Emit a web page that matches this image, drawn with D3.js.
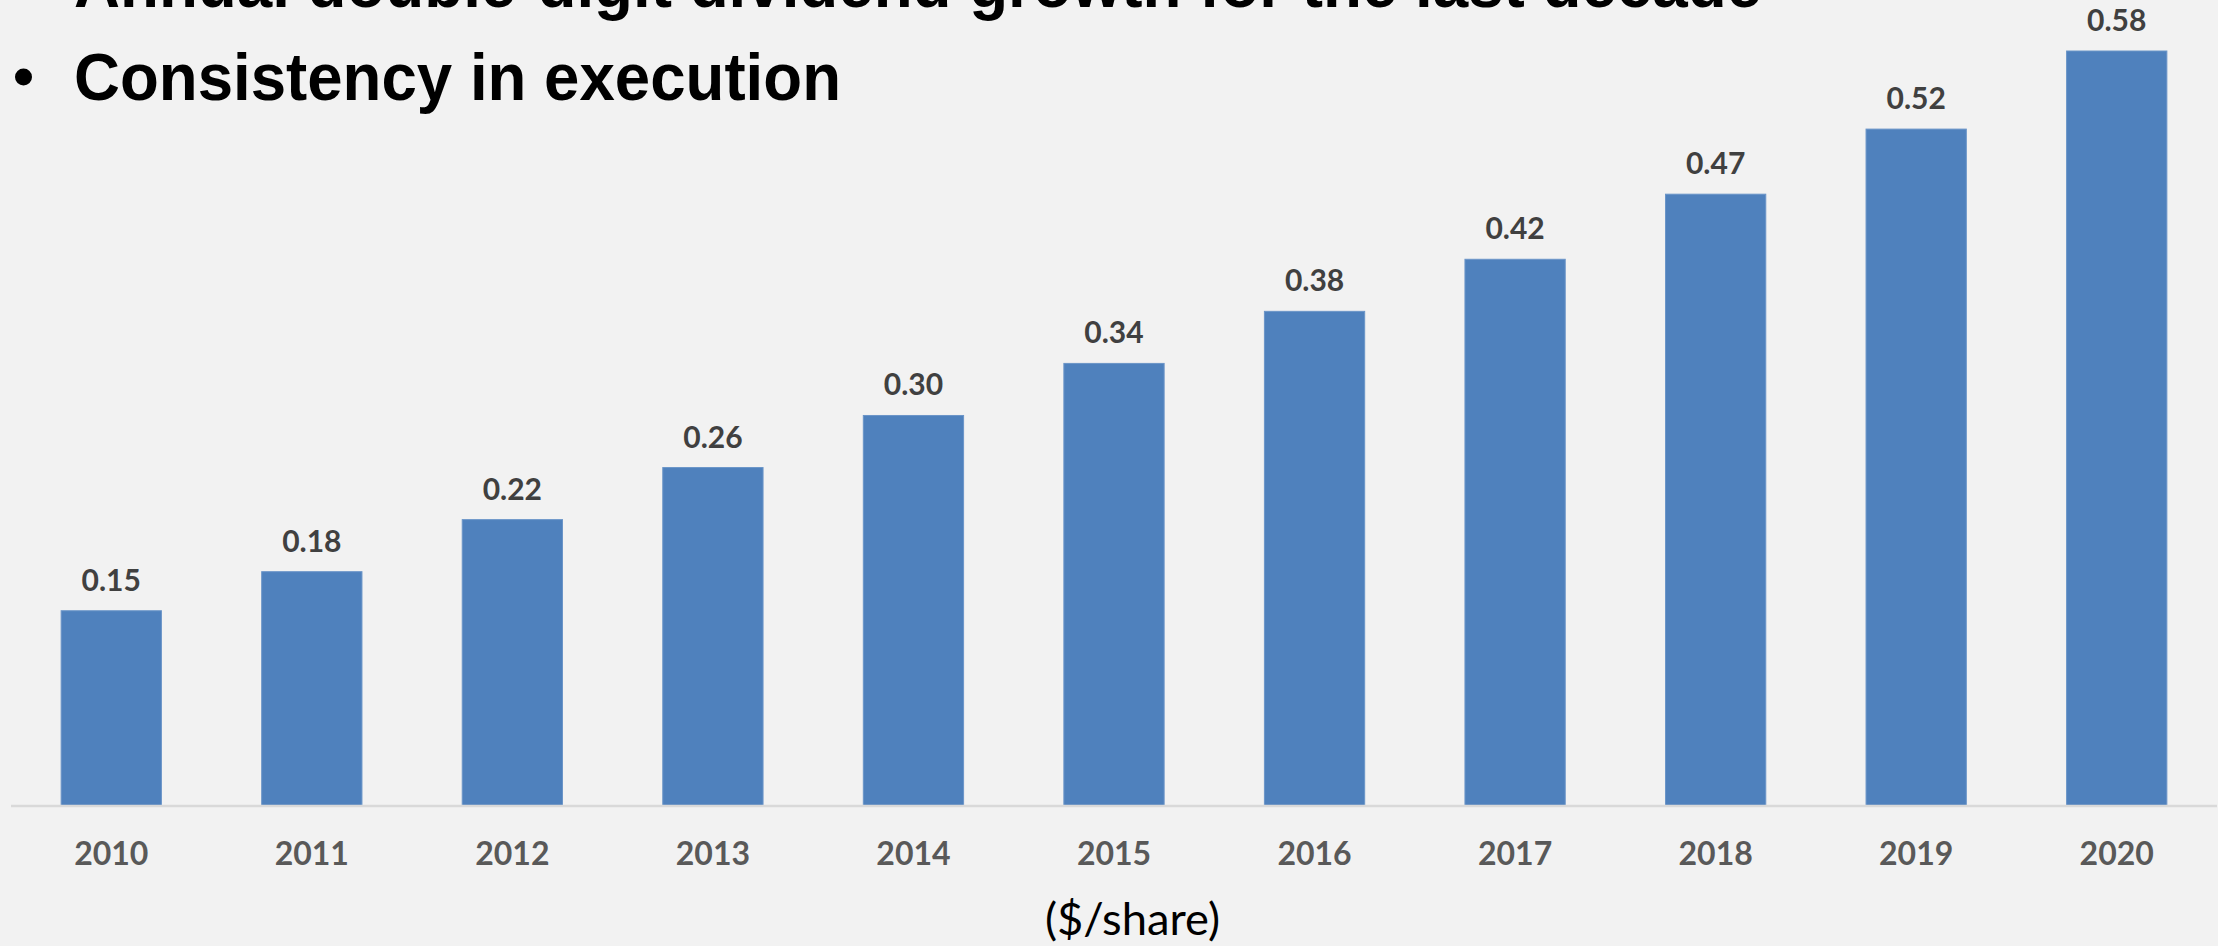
<!DOCTYPE html>
<html>
<head>
<meta charset="utf-8">
<script src="https://cdn.jsdelivr.net/npm/d3@7"></script>
<style>
  html, body { margin: 0; padding: 0; background: #f2f2f2; }
  svg { display: block; }
</style>
</head>
<body>
<svg id="chart" width="2218" height="946"></svg>
<script>
// Annual dividend per share, 2010–2020
const years = ["2010", "2011", "2012", "2013", "2014", "2015", "2016", "2017", "2018", "2019", "2020"];
const dividends = [0.15, 0.18, 0.22, 0.26, 0.30, 0.34, 0.38, 0.42, 0.47, 0.52, 0.58];
const bullets = [
  "Annual double-digit dividend growth for the last decade",
  "Consistency in execution"
];
const unitLabel = "($/share)";

const W = 2218, H = 946;
const svg = d3.select("#chart");

svg.append("rect").attr("width", W).attr("height", H).attr("fill", "#f2f2f2");

// Bullet points at the top (the first line runs off the top edge)
const bulletG = svg.append("g");
const lineBaselines = [7, 100];
const lineWidths = [1688, 767];
bullets.forEach((t, i) => {
  bulletG.append("circle")
    .attr("cx", 23.5).attr("cy", lineBaselines[i] - 23).attr("r", 8.5)
    .attr("fill", "#000");
  bulletG.append("text")
    .attr("x", 74).attr("y", lineBaselines[i])
    .attr("font-family", "'Liberation Sans', Arial, sans-serif")
    .attr("font-weight", "bold")
    .attr("font-size", 67)
    .attr("textLength", lineWidths[i])
    .attr("lengthAdjust", "spacingAndGlyphs")
    .attr("fill", "#000")
    .text(t);
});

// Scales
const x = d3.scaleBand()
  .domain(years)
  .range([11, 2217])
  .paddingInner(0.5)
  .paddingOuter(0.25);

const y = d3.scaleLinear()
  .domain([0, 0.58])
  .range([806, 51]);

const data = years.map((yr, i) => ({ year: yr, value: dividends[i] }));

// Bars
svg.append("g").selectAll("rect")
  .data(data)
  .join("rect")
  .attr("x", d => x(d.year))
  .attr("y", d => y(d.value))
  .attr("width", x.bandwidth())
  .attr("height", d => y(0) - y(d.value))
  .attr("fill", "#4f81bd")
  .attr("stroke", "#6b95c8")
  .attr("stroke-width", 1);

// Value labels
svg.append("g").selectAll("text")
  .data(data)
  .join("text")
  .attr("x", d => x(d.year) + x.bandwidth() / 2)
  .attr("y", d => y(d.value) - 20)
  .attr("text-anchor", "middle")
  .attr("font-family", "Lato, 'Open Sans', sans-serif")
  .attr("font-weight", "bold")
  .attr("font-size", 30)
  .attr("fill", "#404040")
  .text(d => d3.format(".2f")(d.value));

// Category axis
const xAxis = svg.append("g")
  .attr("transform", `translate(0,${y(0)})`)
  .call(d3.axisBottom(x).tickSize(0).tickPadding(0));
xAxis.select(".domain")
  .attr("d", `M${x.range()[0]},0H${x.range()[1]}`)
  .attr("stroke", "#d9d9d9")
  .attr("stroke-width", 2.5);
xAxis.selectAll(".tick text")
  .attr("y", 59)
  .attr("dy", null)
  .attr("font-family", "Lato, 'Open Sans', sans-serif")
  .attr("font-weight", "bold")
  .attr("font-size", 32)
  .attr("fill", "#595959");

// Unit label
svg.append("text")
  .attr("x", 1132.5).attr("y", 935)
  .attr("text-anchor", "middle")
  .attr("font-family", "Lato, 'Open Sans', sans-serif")
  .attr("font-size", 44)
  .attr("textLength", 175)
  .attr("lengthAdjust", "spacingAndGlyphs")
  .attr("fill", "#000")
  .text(unitLabel);
</script>
</body>
</html>
